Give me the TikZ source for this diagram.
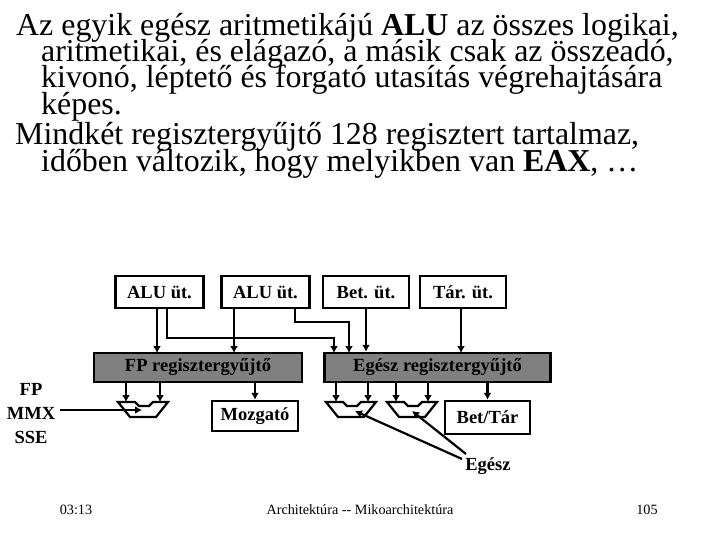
\documentclass[tikz,border=0pt]{standalone}
\usepackage{fontspec}
\setmainfont{Liberation Serif}
\usetikzlibrary{arrows.meta}
\definecolor{ink}{HTML}{000000}
\definecolor{regfill}{HTML}{808080}
\newcommand{\headsize}{\fontsize{31.9}{32}\selectfont}
\newcommand{\boxsize}{\fontsize{18.5}{19}\selectfont\bfseries}
\newcommand{\footsize}{\fontsize{14.2}{14.2}\selectfont}
\tikzset{
  every picture/.style = {line join=miter},
  wire/.style          = {line width=2.2pt, ink},
  feed/.style          = {wire, -{Latex[length=7pt,width=8pt]}},
  unitbox/.style       = {draw=ink, line width=2.5pt, fill=white, inner sep=0pt, font=\boxsize},
  regbox/.style        = {unitbox, fill=regfill},
  headline/.style      = {anchor=base west, inner sep=0pt, font=\headsize},
  tag/.style           = {inner sep=0pt, font=\boxsize},
  foot/.style          = {inner sep=0pt, font=\footsize},
}
\begin{document}
\begin{tikzpicture}[x=1pt, y=-1pt]
  \useasboundingbox (0,0) rectangle (720,540);

  % ---------- heading text ---------------------------------------------------
  \node[headline] (lineA) at (16,36)  {Az egyik egész aritmetikájú \textbf{ALU} az összes logikai,};
  \node[headline] (lineB) at (41,62)  {aritmetikai, és elágazó, a másik csak az összeadó,};
  \node[headline] (lineC) at (41,88)  {kivonó, léptető és forgató utasítás végrehajtására};
  \node[headline] (lineD) at (41,115) {képes.};
  \node[headline] (lineE) at (15,145) {Mindkét regisztergyűjtő 128 regisztert tartalmaz,};
  \node[headline] (lineF) at (41,172) {időben változik, hogy melyikben van \textbf{EAX}, …};

  % ---------- execution units on top -----------------------------------------
  \node[unitbox, minimum width=88pt, minimum height=32pt] (aluA) at (159.5,292) {ALU üt.};
  \node[unitbox, minimum width=88pt, minimum height=32pt] (aluB) at (265.5,292) {ALU üt.};
  \node[unitbox, minimum width=86pt, minimum height=32pt] (bet)  at (366,292)   {Bet. üt.};
  \node[unitbox, minimum width=86pt, minimum height=32pt] (tar)  at (463,292)   {Tár. üt.};

  % ---------- register files and the units below them --------------------------
  \node[regbox, minimum width=208pt, minimum height=29pt] (fpreg)  at (198,367.5) {FP regisztergyűjtő};
  \node[regbox, minimum width=226pt, minimum height=29pt] (intreg) at (437.5,367.5) {Egész regisztergyűjtő};
  \node[unitbox, minimum width=86pt, minimum height=30pt] (mov)    at (255,416) {Mozgató};
  \node[unitbox, minimum width=85pt, minimum height=33pt] (bettar) at (487.5,417.5) {Bet/Tár};

  \node[tag, align=center] (fptag) at (31,414) {FP\\[5pt]MMX\\[5pt]SSE};
  \node[tag] (inttag) at (488,466) {Egész};

  % the ALU symbol, with its notch on the top edge
  \newcommand{\alushape}[1]{%
    \draw[wire] (#1,402) -- ++(17,0) -- ++(4,4) -- ++(10,0) -- ++(4,-4) -- ++(15,0)
      -- ++(-12,15) -- ++(-26,0) -- cycle;}
  \alushape{118}
  \alushape{326}
  \alushape{387}

  % ---------- into the register files ----------------------------------------
  \draw[feed] (aluA.south -| 157,0) -- (157,353);
  \draw[feed] (aluB.south -| 234,0) -- (234,353);
  \draw[feed] (bet.south) -- (bet.south |- intreg.north);
  \draw[feed] (tar.south -| 461,0) -- (461,353);
  \draw[feed] (aluA.south -| 167,0) -- (167,338) -- (334,338) -- (334,353);
  \draw[feed] (aluB.south -| 295,0) -- (295,322) -- (349,322) -- (349,353);

  % ---------- out of the register files ---------------------------------------
  \foreach \xa in {126,160}
    \draw[feed] (fpreg.south -| \xa,0) -- (\xa,402);
  \foreach \xa in {336,368,396,428}
    \draw[feed] (intreg.south -| \xa,0) -- (\xa,402);
  \draw[feed] (mov.north |- fpreg.south) -- (mov.north);
  \draw[feed] (bettar.north |- intreg.south) -- (bettar.north);

  \coordinate (fpout) at (60,410);
  \coordinate (fpin)  at (142,410);
  \coordinate (aluC)  at (355,411);
  \coordinate (aluD)  at (412,411);
  \coordinate (srcC)  at (462,459);
  \coordinate (srcD)  at (466,454);
  \draw[feed] (fpout) -- (fpin);
  \draw[feed] (srcC) -- (aluC);
  \draw[feed] (srcD) -- (aluD);

  % ---------- footer -----------------------------------------------------------
  \node[foot] (date)  at (76,510)  {03:13};
  \node[foot] (title) at (360,510) {Architektúra {-}{-} Mikoarchitektúra};
  \node[foot] (page)  at (647,510) {105};
\end{tikzpicture}
\end{document}
